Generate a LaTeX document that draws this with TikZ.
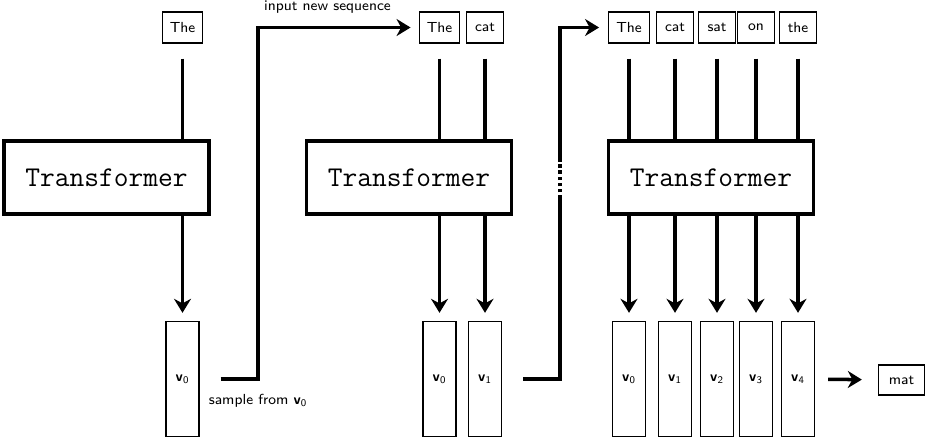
\documentclass[tikz,border=0pt]{standalone}
\usepackage{tikz}
\usetikzlibrary{positioning, arrows.meta}
\newcommand{\vsub}[1]{\textbf{v}\textsubscript{#1}}
\tikzset{
  tok/.style={draw, line width=0.8pt, font=\sffamily\fontsize{8.3}{10}\selectfont,
              minimum width=7.4mm, minimum height=6.2mm, inner xsep=1.5mm},
  trans/.style={draw, line width=2.2pt, minimum width=4.1cm, minimum height=1.46cm,
                font=\ttfamily\fontsize{16.3}{20}\selectfont},
  vbox/.style={draw, line width=0.8pt, minimum width=6.6mm, minimum height=2.3cm,
               font=\sffamily\fontsize{8.3}{10}\selectfont},
  lbl/.style={font=\sffamily\fontsize{8.3}{10}\selectfont},
  wire/.style={line width=2pt},
  flow/.style={-{Stealth[length=2.8mm, width=3.4mm]}, line width=2pt},
}

\begin{document}
\begin{tikzpicture}[x=0.02cm, y=-0.02cm]
  \useasboundingbox (0,0) rectangle (925,437);
  % three passes through the model
  \node[trans] (T1) at (106.5,177.5) {Transformer};
  \node[trans] (T2) at (409,177.5) {Transformer};
  \node[trans] (T3) at (711,177.5) {Transformer};
  % first pass
  \node[tok] (a1) at (182.5,27.5) {The};
  \node[vbox] (av0) at (182.5,379) {\vsub{0}};
  \draw[wire, shorten <=3mm] (a1) -- (a1 |- T1.north);
  \draw[flow, shorten >=1.6mm] (a1 |- T1.south) -- (av0);
  % second pass
  \node[tok] (b1) at (439.5,27.5) {The};
  \node[tok] (b2) at (485,27.5) {cat};
  \node[vbox] (bv0) at (439.5,379) {\vsub{0}};
  \node[vbox] (bv1) at (485,379) {\vsub{1}};
  \foreach \t/\v in {b1/bv0, b2/bv1} {
    \draw[wire, shorten <=3mm] (\t) -- (\t |- T2.north);
    \draw[flow, shorten >=1.6mm] (\t |- T2.south) -- (\v);
  }
  % third pass
  \foreach \n/\x/\w in {1/629/The, 2/675/cat, 3/717/sat, 4/756/on, 5/798/the} {
    \node[tok] (c\n) at (\x,27.5) {\w};
    \pgfmathtruncatemacro{\k}{\n-1}
    \node[vbox] (cv\k) at (\x,379) {\vsub{\k}};
    \draw[wire, shorten <=3mm] (c\n) -- (c\n |- T3.north);
    \draw[flow, shorten >=1.6mm] (c\n |- T3.south) -- (cv\k);
  }
  \node[tok, minimum width=9.2mm, minimum height=6mm] (mat) at (901.5,380) {mat};
  % feeding the sample back in
  \coordinate (k0) at (258,379);
  \coordinate (k1) at (258,27.5);
  \draw[flow, shorten >=1.6mm] ([xshift=4.2mm]av0.east) -- (k0) |- (b1);
  \node[lbl, below=1.8mm of k0] (smp) {sample from \vsub{0}};
  \node[lbl, above right=1.5mm and 0mm of k1] (inp) {input new sequence};
  \coordinate (k2) at (560,379);
  \coordinate (d1) at (560,195);
  \coordinate (d2) at (560,158);
  \draw[wire] ([xshift=4.2mm]bv1.east) -- (k2) -- (d1);
  \draw[wire, dash pattern=on 2pt off 1.5pt, shorten <=1.5pt] (d1) -- (d2);
  \draw[flow, shorten >=1.8mm] (d2) |- (c1);
  \draw[flow, shorten <=2.6mm, shorten >=3.2mm] (cv4) -- (mat);
\end{tikzpicture}
\end{document}
